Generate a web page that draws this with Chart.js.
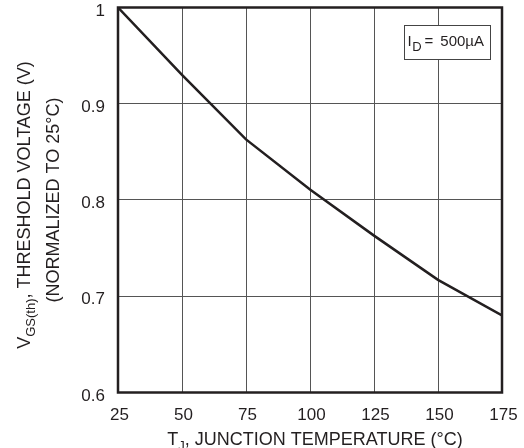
<!DOCTYPE html>
<html>
<head>
<meta charset="utf-8">
<script src="https://cdn.jsdelivr.net/npm/chart.js@4/dist/chart.umd.min.js"></script>
<style>
html,body{margin:0;padding:0;background:#fff;}
#c{display:block;}
</style>
</head>
<body>
<canvas id="c" width="524" height="448"></canvas>
<script>
// ---- data ----
const temperatures = [25, 50, 75, 100, 125, 150, 175];
const thresholdNorm = [1.0, 0.930, 0.863, 0.811, 0.763, 0.717, 0.680];
const xTickValues = [25, 50, 75, 100, 125, 150, 175];
const yTickLabels = ['0.6', '0.7', '0.8', '0.9', '1'];
const annotationParts = ['I', 'D', '=', '500µA'];
const xTitleParts = ['T', 'J', ', JUNCTION TEMPERATURE (°C)'];
const yTitleParts = ['V', 'GS(th)', ', THRESHOLD VOLTAGE (V)'];
const yTitleLine2 = '(NORMALIZED TO 25°C)';

const INK = '#231f20';
const FONT = '"Liberation Sans", Arial, sans-serif';

function drawSubText(ctx, parts, size, subSize, subDrop) {
  ctx.font = size + 'px ' + FONT;
  const w0 = ctx.measureText(parts[0]).width;
  const w2 = ctx.measureText(parts[2]).width;
  ctx.font = subSize + 'px ' + FONT;
  const w1 = ctx.measureText(parts[1]).width;
  const total = w0 + w1 + w2;
  let x = -total / 2;
  ctx.textAlign = 'left';
  ctx.textBaseline = 'alphabetic';
  ctx.font = size + 'px ' + FONT;
  ctx.fillText(parts[0], x, 0); x += w0;
  ctx.font = subSize + 'px ' + FONT;
  ctx.fillText(parts[1], x, subDrop); x += w1;
  ctx.font = size + 'px ' + FONT;
  ctx.fillText(parts[2], x, 0);
}

const decorPlugin = {
  id: 'decor',
  afterDraw(chart) {
    const ctx = chart.ctx;
    const a = chart.chartArea;
    ctx.save();
    // frame
    ctx.strokeStyle = INK;
    ctx.lineWidth = 2.5;
    ctx.strokeRect(a.left, a.top, a.right - a.left, a.bottom - a.top);
    ctx.fillStyle = INK;
    // x title
    ctx.save();
    ctx.translate(315, 445);
    drawSubText(ctx, xTitleParts, 18, 13, 5);
    ctx.restore();
    // y title line 1
    ctx.save();
    ctx.translate(30, 205);
    ctx.rotate(-Math.PI / 2);
    drawSubText(ctx, yTitleParts, 18, 13, 5);
    ctx.restore();
    // y title line 2
    ctx.save();
    ctx.translate(59, 200);
    ctx.rotate(-Math.PI / 2);
    ctx.font = '18px ' + FONT;
    ctx.textAlign = 'center';
    ctx.textBaseline = 'alphabetic';
    ctx.fillText(yTitleLine2, 0, 0);
    ctx.restore();
    // annotation box
    const bx = 404, by = 25, bw = 86, bh = 34;
    ctx.fillStyle = '#fff';
    ctx.fillRect(bx, by, bw, bh);
    ctx.strokeStyle = '#444';
    ctx.lineWidth = 1;
    ctx.strokeRect(bx + 0.5, by + 0.5, bw, bh);
    ctx.fillStyle = INK;
    ctx.textAlign = 'left';
    ctx.textBaseline = 'alphabetic';
    let x = 407.5;
    ctx.font = '15px ' + FONT;
    ctx.fillText(annotationParts[0], x, 45.5);
    x += ctx.measureText(annotationParts[0]).width + 0.5;
    ctx.font = '13px ' + FONT;
    ctx.fillText(annotationParts[1], x, 51);
    x += ctx.measureText(annotationParts[1]).width + 3;
    ctx.font = '15px ' + FONT;
    ctx.fillText(annotationParts[2], x, 45.5);
    ctx.textAlign = 'right';
    ctx.fillText(annotationParts[3], 484, 45.5);
    ctx.restore();
  }
};

new Chart(document.getElementById('c'), {
  type: 'line',
  data: {
    datasets: [{
      data: temperatures.map((t, i) => ({x: t, y: thresholdNorm[i]})),
      borderColor: INK,
      borderWidth: 2.5,
      pointRadius: 0,
      tension: 0,
      fill: false
    }]
  },
  options: {
    responsive: false,
    animation: false,
    devicePixelRatio: 1,
    layout: {padding: {top: 7.5, right: 22, left: 0, bottom: 0}},
    plugins: {legend: {display: false}, tooltip: {enabled: false}},
    scales: {
      x: {
        type: 'linear',
        min: 25, max: 175,
        afterBuildTicks(scale) { scale.ticks = xTickValues.map(v => ({value: v})); },
        afterFit(scale) {
          scale.height = 55.5;
          scale.paddingLeft = 0; scale.paddingRight = 0;
        },
        grid: {color: '#555', lineWidth: 1, drawTicks: false},
        border: {display: false},
        ticks: {
          color: INK,
          font: {family: FONT, size: 17},
          padding: 13,
          labelOffset: 1.5,
          maxRotation: 0,
          callback: (v) => String(v)
        }
      },
      y: {
        type: 'linear',
        min: 0.6, max: 1.0,
        afterBuildTicks(scale) { scale.ticks = yTickLabels.map(s => ({value: parseFloat(s)})); },
        afterFit(scale) {
          scale.width = 118;
          scale.paddingTop = 0; scale.paddingBottom = 0;
        },
        grid: {color: '#555', lineWidth: 1, drawTicks: false},
        border: {display: false},
        ticks: {
          color: INK,
          font: {family: FONT, size: 17},
          padding: 13,
          labelOffset: 3.5,
          callback: (v) => {
            const i = yTickLabels.findIndex(s => Math.abs(parseFloat(s) - v) < 1e-6);
            return i >= 0 ? yTickLabels[i] : '';
          }
        }
      }
    }
  },
  plugins: [decorPlugin]
});
</script>
</body>
</html>
